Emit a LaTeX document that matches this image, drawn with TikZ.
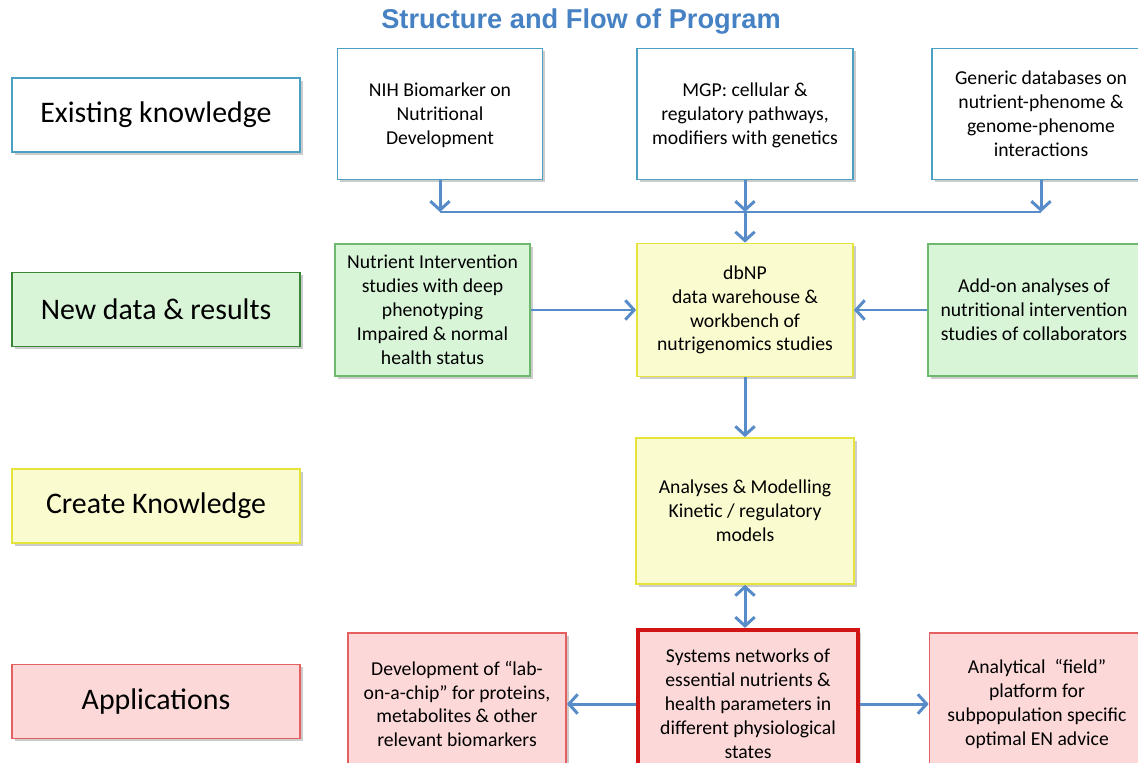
\documentclass[tikz,border=0pt]{standalone}
\usepackage{fontspec}
\setmainfont{Carlito}
\newfontfamily\titlefont{Liberation Sans}
\usetikzlibrary{arrows.meta,shadows}

\definecolor{arrowblue}{RGB}{88,140,200}
\definecolor{titleblue}{RGB}{70,130,195}
\definecolor{knowline}{RGB}{75,160,195}
\definecolor{greenfill}{RGB}{216,245,216}
\definecolor{greenline}{RGB}{110,185,110}
\definecolor{greendark}{RGB}{55,135,55}
\definecolor{yellowfill}{RGB}{251,251,208}
\definecolor{yellowline}{RGB}{228,228,60}
\definecolor{pinkfill}{RGB}{252,216,216}
\definecolor{pinkline}{RGB}{228,95,95}
\definecolor{sysred}{RGB}{210,20,20}

\begin{document}
\begin{tikzpicture}[x=0.02cm,y=-0.02cm,
box/.style={draw,rectangle,inner sep=2pt,align=center,line width=1pt,
  font=\fontsize{11.2}{13.6}\selectfont,
  drop shadow={shadow xshift=1.5pt,shadow yshift=-1.5pt,opacity=0.4}},
catbox/.style={minimum width=5.76cm,minimum height=1.48cm,font=\fontsize{17}{20}\selectfont},
knowbox/.style={box,draw=knowline,fill=white},
newbox/.style={box,draw=greenline,fill=greenfill},
createbox/.style={box,draw=yellowline,fill=yellowfill},
appbox/.style={box,draw=pinkline,fill=pinkfill},
arr/.style={draw=arrowblue,line width=1.7pt,-{Straight Barb[length=5pt,width=11pt]}},
dblarr/.style={draw=arrowblue,line width=1.7pt,{Straight Barb[length=5pt,width=11pt]}-{Straight Barb[length=5pt,width=11pt]}},
bar/.style={draw=arrowblue,line width=1.7pt}]

\useasboundingbox (0,0) rectangle (1138,763);

\draw (581,22) node[font=\titlefont\bfseries\fontsize{15.5}{18}\selectfont,text=titleblue] (title) {Structure and Flow of Program};

\draw (156,115) node[knowbox,catbox] (exist) {Existing knowledge};
\draw (156,309.5) node[newbox,catbox,draw=greendark] (newdata) {New data \& results};
\draw (156,506) node[createbox,catbox] (create) {Create Knowledge};
\draw (156,701.5) node[appbox,catbox] (apps) {Applications};

\draw (440,114) node[knowbox,minimum width=4.1cm,minimum height=2.62cm,text depth=-6pt] (nih) {NIH Biomarker on\\Nutritional\\Development};
\draw (745,114) node[knowbox,minimum width=4.32cm,minimum height=2.62cm,text depth=-6pt] (mgp) {MGP: cellular \&\\regulatory pathways,\\modifiers with genetics};
\draw (1041,114) node[knowbox,minimum width=4.36cm,minimum height=2.62cm] (generic) {Generic databases on\\nutrient-phenome \&\\genome-phenome\\interactions};

\draw (432.5,310) node[newbox,minimum width=3.9cm,minimum height=2.64cm] (interv) {Nutrient Intervention\\studies with deep\\phenotyping\\Impaired \& normal\\health status};
\draw (745,310) node[createbox,minimum width=4.32cm,minimum height=2.66cm] (dbnp) {dbNP\\data warehouse \&\\workbench of\\nutrigenomics studies};
\draw (1034,310) node[newbox,minimum width=4.24cm,minimum height=2.64cm] (addon) {Add-on analyses of\\nutritional intervention\\studies of collaborators};

\draw (745,511) node[createbox,minimum width=4.36cm,minimum height=2.92cm] (model) {Analyses \& Modelling\\Kinetic / regulatory\\models};

\draw (457,704) node[appbox,minimum width=4.36cm,minimum height=2.84cm] (chip) {Development of ``lab-\\on-a-chip'' for proteins,\\metabolites \& other\\relevant biomarkers};
\draw (748,704) node[appbox,draw=sysred,line width=2.4pt,minimum width=4.4cm,minimum height=2.96cm] (systems) {Systems networks of\\essential nutrients \&\\health parameters in\\different physiological\\states};
\draw (1037,704) node[appbox,minimum width=4.3cm,minimum height=2.84cm] (field) {Analytical ~``field''\\platform for\\subpopulation specific\\optimal EN advice};

\coordinate (bus) at (745,212);

\draw[arr] (nih.south) -- (nih.south |- bus);
\draw[arr] (mgp.south) -- (bus);
\draw[arr] (generic.south) -- (generic.south |- bus);
\draw[bar] (nih.south |- bus) -- (generic.south |- bus);
\draw[arr] (bus) -- (dbnp.north);
\draw[arr] (interv.east) -- (dbnp.west);
\draw[arr] (addon.west) -- (dbnp.east);
\draw[arr] (dbnp.south) -- (model.north);
\draw[dblarr] (model.south) -- (model.south |- systems.north);
\draw[arr] (systems.west) -- (chip.east);
\draw[arr] (systems.east) -- (field.west);
\end{tikzpicture}
\end{document}
